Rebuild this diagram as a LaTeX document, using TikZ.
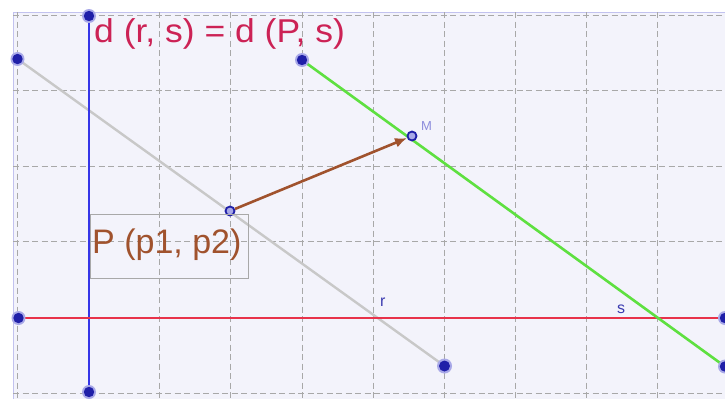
\documentclass[tikz,border=0pt]{standalone}
\usepackage{fontspec}
\setmainfont{Liberation Sans}
\usetikzlibrary{arrows.meta}
\definecolor{bgc}{HTML}{F3F3FB}
\definecolor{gridc}{HTML}{A8A8A8}
\definecolor{bluel}{HTML}{3535E8}
\definecolor{redl}{HTML}{E8324A}
\definecolor{greenl}{HTML}{5EE040}
\definecolor{grayl}{HTML}{C8C8C8}
\definecolor{brownl}{HTML}{A0522D}
\definecolor{titlec}{HTML}{CC2255}
\definecolor{ptc}{HTML}{1F1FA8}
\definecolor{haloc}{HTML}{A8A8E8}
\definecolor{labc}{HTML}{3A3AB0}
\definecolor{mlabc}{HTML}{8C8CDC}
\tikzset{
  gridline/.style={gridc, dash pattern=on 6pt off 3.5pt, line width=0.8pt},
  seg/.style={line width=2.6pt},
  ptbig/.style={circle, fill=ptc, minimum size=10pt, inner sep=0pt, draw=haloc, line width=1.5pt},
  ptsmall/.style={circle, fill=haloc, draw=ptc, minimum size=9pt, inner sep=0pt, line width=1.8pt},
  lab/.style={inner sep=0pt, anchor=base west},
}
\begin{document}
\begin{tikzpicture}[x=1pt, y=-1pt]
\useasboundingbox (0,0) rectangle (725,399);
\fill[white] (0,0) rectangle (725,399);
\fill[bgc] (13,12) rectangle (725,399);
\draw[haloc!70, line width=1pt] (13,399) -- (13,12) -- (725,12);
% grid
\foreach \x in {17.5,88.6,159.7,230.8,301.9,373,444.1,515.2,586.3,657.4} {
  \draw[gridline] (\x,12) -- (\x,399);
}
\foreach \y in {15,90.6,166.2,241.8,317.4,393} {
  \draw[gridline] (13,\y) -- (725,\y);
}
% points
\node[ptbig] (A) at (17.5,59) {};
\node[ptbig] (G) at (444.5,366) {};
\node[ptbig] (B1) at (89,16) {};
\node[ptbig] (B2) at (89,392) {};
\node[ptbig] (R1) at (18.5,318) {};
\node[ptbig] (R2) at (725,318) {};
\node[ptbig] (S1) at (302,60) {};
\node[ptbig] (S2) at (725,366.5) {};
% segments
\draw[seg, grayl, line width=2.4pt] (A.center) -- (G.center);
\draw[seg, bluel] (B1.center) -- (B2.center);
\draw[seg, redl, line width=2pt] (R1.center) -- (R2.center);
\draw[seg, greenl] (S1.center) -- (S2.center);
% redraw points on top
\foreach \p in {A,B1,B2,R1,R2,S1,S2} {
  \fill[haloc] (\p) circle (7pt);
  \fill[ptc] (\p) circle (5.2pt);
}
\fill[haloc] (G) circle (7.5pt);
\fill[ptc] (G) circle (5.5pt);
% P and M
\node[ptsmall] (P) at (230,211) {};
\node[ptsmall] (M) at (412,136) {};
\draw[brownl, line width=2.6pt, -{Latex[length=12pt,width=10pt]}] (P) -- (M);
% labels
\node[lab, text=titlec, font=\fontsize{33}{38}\selectfont, xscale=1.075] (title) at (94,42) {d (r, s) = d (P, s)};
\node[draw=gridc, line width=0.8pt, minimum width=158pt, minimum height=64pt, anchor=north west, inner sep=0pt] (box) at (90,214) {};
\node[lab, text=brownl, font=\fontsize{34}{40}\selectfont] (ptxt) at (92,253) {P (p1, p2)};
\node[lab, text=mlabc, font=\fontsize{13}{15}\selectfont] (mlab) at (421,130) {M};
\node[lab, text=labc, font=\fontsize{16}{18}\selectfont] (rlab) at (380,306) {r};
\node[lab, text=labc, font=\fontsize{16}{18}\selectfont] (slab) at (617,313) {s};
\end{tikzpicture}
\end{document}
